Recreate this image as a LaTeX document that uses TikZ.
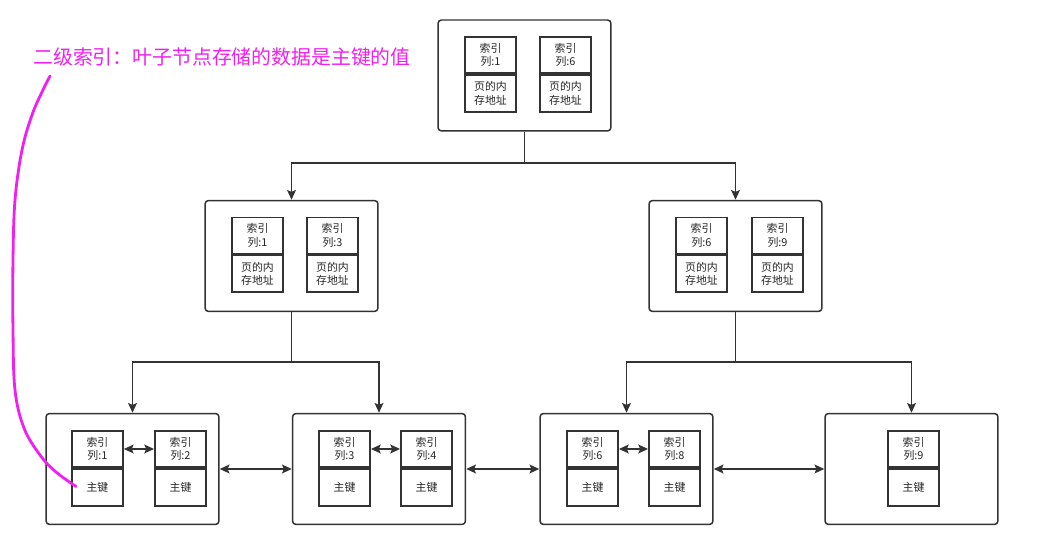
\documentclass[tikz,border=0pt]{standalone}
\usepackage{fontspec}
\setmainfont{Noto Sans CJK SC}
\usetikzlibrary{arrows.meta,positioning}

\definecolor{linegray}{HTML}{333333}
\definecolor{notepink}{HTML}{F020F0}

\begin{document}
\begin{tikzpicture}[
  x=0.02cm, y=-0.02cm,
  >={Stealth[length=5.5pt,width=5pt,inset=1pt]},
  page/.style={rectangle, rounded corners=2pt, draw=linegray, line width=0.85pt,
    minimum width=3.46cm, minimum height=2.22cm},
  keycell/.style={rectangle, draw=linegray, line width=1.1pt, align=center,
    minimum width=1.02cm, minimum height=0.72cm, inner sep=0pt,
    font=\fontsize{6.2}{7.8}\selectfont, text=black!85},
  valcell/.style={keycell, minimum height=0.74cm},
  treeline/.style={->, draw=linegray, line width=0.85pt},
  sibline/.style={<->, draw=linegray, line width=0.85pt},
  note/.style={draw=notepink, line width=1.6pt, line cap=round}
]
  \useasboundingbox (0,0) rectangle (1049,546);

  % pages
  \node[page] (root) at (524.5,75.5) {};
  \node[page] (midL) at (291.5,256) {};
  \node[page] (midR) at (735.5,256) {};
  \node[page] (leafA) at (132.5,469) {};
  \node[page] (leafB) at (379,469) {};
  \node[page] (leafC) at (626.5,469) {};
  \node[page] (leafD) at (911.5,469) {};

  % non-leaf entries
  \foreach \nm/\x/\y/\k in {r1/490.5/55/1, r2/565.5/55/6,
      l1/257.5/235.5/1, l2/332.5/235.5/3,
      m1/701.5/235.5/6, m2/777.5/235.5/9} {
    \node[keycell] (\nm k) at (\x,\y) {索引\\列:\k};
    \node[valcell, below=0pt of \nm k] (\nm v) {页的内\\存地址};
  }

  % leaf entries
  \foreach \nm/\x/\k in {a1/97.4/1, a2/180.5/2, b1/344.5/3, b2/426.5/4,
      c1/592.5/6, c2/674.5/8, d1/913.5/9} {
    \node[keycell] (\nm k) at (\x,449) {索引\\列:\k};
    \node[valcell, below=0pt of \nm k] (\nm v) {主键};
  }

  % tree links
  \coordinate (rsplit) at (524.5,163);
  \coordinate (lsplit) at (291.5,362);
  \coordinate (msplit) at (735.5,362);
  \draw[treeline] (root) -- (rsplit) -| (midL);
  \draw[treeline] (rsplit) -| (midR);
  \draw[treeline] (midL) -- (lsplit) -| (leafA);
  \draw[treeline] (lsplit) -| (leafB);
  \draw[treeline] (midR) -- (msplit) -| (leafC);
  \draw[treeline] (msplit) -| (leafD);

  % sibling links
  \draw[sibline] (a1k) -- (a2k);
  \draw[sibline] (b1k) -- (b2k);
  \draw[sibline] (c1k) -- (c2k);
  \draw[sibline] (leafA) -- (leafB);
  \draw[sibline] (leafB) -- (leafC);
  \draw[sibline] (leafC) -- (leafD);

  % annotation
  \node[anchor=west, inner sep=0pt, text=notepink,
    font=\fontsize{11.3}{13}\selectfont] (note) at (33,57)
    {二级索引：叶子节点存储的数据是主键的值};
  \coordinate (noteend) at ([xshift=0.1cm,yshift=0.02cm]a1v.west);
  \draw[note] plot[smooth, tension=0.6] coordinates {(50,76) (42,92) (32,115)
    (22,150) (15,200) (13,260) (13,330) (15,390) (24,428) (40,455) (56,472)
    (noteend)};
\end{tikzpicture}
\end{document}
